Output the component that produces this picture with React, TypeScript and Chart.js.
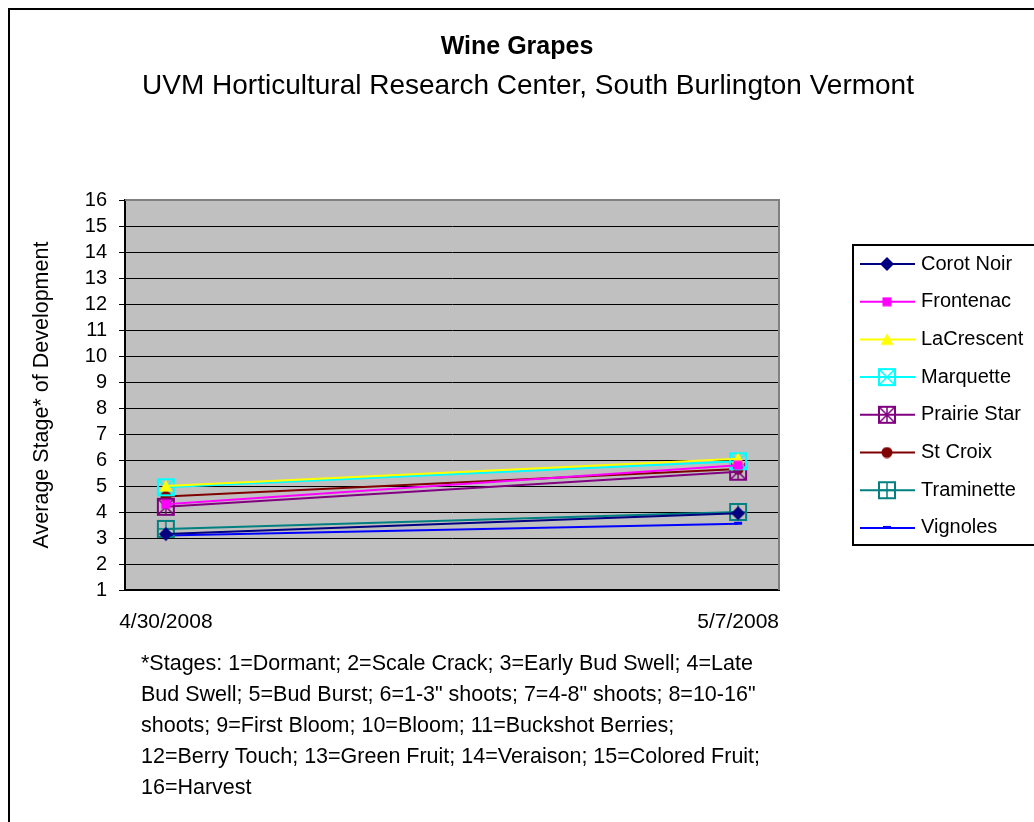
import React, { useEffect, useRef } from 'react';
import { Chart, registerables } from 'chart.js';

Chart.register(...registerables);

// ---- data ----
const dayOffsets = [0, 7];
const dateLabels = ['4/30/2008', '5/7/2008'];
const seriesNames = ['Corot Noir', 'Frontenac', 'LaCrescent', 'Marquette', 'Prairie Star', 'St Croix', 'Traminette', 'Vignoles'];
const corotNoir = [3.15, 3.95];
const frontenac = [4.3, 5.8];
const laCrescent = [5.0, 6.05];
const marquette = [4.95, 5.95];
const prairieStar = [4.2, 5.55];
const stCroix = [4.6, 5.65];
const traminette = [3.35, 4.0];
const vignoles = [3.1, 3.55];
const yMin = 1;
const yMax = 16;
const titleText = 'Wine Grapes';
const subtitleText = 'UVM Horticultural Research Center, South Burlington Vermont';
const yAxisTitle = 'Average Stage* of Development';
const footnoteLines = [
  '*Stages: 1=Dormant; 2=Scale Crack; 3=Early Bud Swell; 4=Late',
  'Bud Swell; 5=Bud Burst; 6=1-3" shoots; 7=4-8" shoots; 8=10-16"',
  'shoots; 9=First Bloom; 10=Bloom; 11=Buckshot Berries;',
  '12=Berry Touch; 13=Green Fruit; 14=Veraison; 15=Colored Fruit;',
  '16=Harvest',
];

const seriesValues = [corotNoir, frontenac, laCrescent, marquette, prairieStar, stCroix, traminette, vignoles];
const seriesColors = ['#000080', '#FF00FF', '#FFFF00', '#00FFFF', '#800080', '#800000', '#008080', '#0000FF'];
const seriesMarkers = ['diamond', 'square', 'triangle', 'boxX', 'boxStar', 'circle', 'boxPlus', 'dash'];

const FONT = "'Liberation Sans', Arial, sans-serif";

function makeMarker(kind: string, color: string): HTMLCanvasElement {
  const c = document.createElement('canvas');
  let s = 20;
  if (kind === 'diamond') s = 16;
  if (kind === 'square') s = 10;
  if (kind === 'triangle') s = 14;
  if (kind === 'circle') s = 12;
  if (kind === 'dash') s = 10;
  c.width = s;
  c.height = s;
  const g = c.getContext('2d')!;
  g.fillStyle = color;
  g.strokeStyle = color;
  if (kind === 'diamond') {
    g.beginPath();
    g.moveTo(8, 1); g.lineTo(15, 8); g.lineTo(8, 15); g.lineTo(1, 8); g.closePath();
    g.fill();
  } else if (kind === 'square') {
    g.fillRect(0.5, 0.5, 9, 9);
  } else if (kind === 'triangle') {
    g.beginPath();
    g.moveTo(7, 1); g.lineTo(13.5, 12.5); g.lineTo(0.5, 12.5); g.closePath();
    g.fill();
  } else if (kind === 'circle') {
    g.beginPath();
    g.arc(6, 6, 5.5, 0, Math.PI * 2);
    g.fill();
  } else if (kind === 'dash') {
    g.fillRect(1, 3, 8, 3);
  } else {
    g.lineWidth = 2;
    g.strokeRect(2, 2, 16, 16);
    g.lineWidth = 1.5;
    g.beginPath();
    if (kind === 'boxX' || kind === 'boxStar') {
      g.moveTo(3, 3); g.lineTo(17, 17);
      g.moveTo(17, 3); g.lineTo(3, 17);
    }
    if (kind === 'boxStar' || kind === 'boxPlus') {
      g.moveTo(10, 3); g.lineTo(10, 17);
    }
    if (kind === 'boxPlus') {
      g.moveTo(3, 10); g.lineTo(17, 10);
    }
    g.stroke();
  }
  return c;
}

export default function App() {
  const ref = useRef<HTMLCanvasElement | null>(null);

  useEffect(() => {
    const canvas = ref.current;
    if (!canvas) return;
    const markers = seriesMarkers.map((m, i) => makeMarker(m, seriesColors[i]));

    const decor = {
      id: 'decor',
      beforeDraw(chart: any) {
        const { ctx, chartArea: a } = chart;
        ctx.save();
        ctx.fillStyle = '#ffffff';
        ctx.fillRect(0, 0, chart.width, chart.height);
        ctx.fillStyle = '#C0C0C0';
        ctx.fillRect(a.left, a.top, a.right - a.left, a.bottom - a.top);
        ctx.restore();
      },
      beforeDatasetsDraw(chart: any) {
        const { ctx, chartArea: a } = chart;
        ctx.save();
        ctx.strokeStyle = '#808080';
        ctx.lineWidth = 2;
        ctx.beginPath();
        ctx.moveTo(a.left, a.top);
        ctx.lineTo(a.right, a.top);
        ctx.lineTo(a.right, a.bottom);
        ctx.stroke();
        ctx.restore();
      },
      afterDraw(chart: any) {
        const ctx = chart.ctx as CanvasRenderingContext2D;
        ctx.save();
        // outer border
        ctx.strokeStyle = '#000';
        ctx.lineWidth = 2;
        ctx.strokeRect(9, 9, 1100, 900);
        // titles
        ctx.fillStyle = '#000';
        ctx.textAlign = 'center';
        ctx.textBaseline = 'middle';
        ctx.font = `bold 25px ${FONT}`;
        ctx.fillText(titleText, 517, 47);
        ctx.font = `28px ${FONT}`;
        ctx.fillText(subtitleText, 528, 86);
        // y title
        ctx.save();
        ctx.translate(42, 395);
        ctx.rotate(-Math.PI / 2);
        ctx.font = `21.5px ${FONT}`;
        ctx.fillText(yAxisTitle, 0, 0);
        ctx.restore();
        // footnote
        ctx.textAlign = 'left';
        ctx.font = `21.5px ${FONT}`;
        footnoteLines.forEach((ln, i) => ctx.fillText(ln, 141, 664 + i * 31));
        // legend
        ctx.font = `20px ${FONT}`;
        ctx.lineWidth = 2;
        ctx.strokeStyle = '#000';
        ctx.strokeRect(853, 245, 200, 300);
        seriesNames.forEach((name, i) => {
          const y = 264 + i * 37.7;
          ctx.strokeStyle = seriesColors[i];
          ctx.lineWidth = 2;
          ctx.beginPath();
          ctx.moveTo(860, y);
          ctx.lineTo(915, y);
          ctx.stroke();
          const m = markers[i];
          ctx.drawImage(m, 887 - m.width / 2, y - m.height / 2);
          ctx.fillStyle = '#000';
          ctx.textAlign = 'left';
          ctx.fillText(name, 921, y);
        });
        ctx.restore();
      },
    };

    const chart = new Chart(canvas, {
      type: 'line',
      data: {
        datasets: seriesNames.map((name, i) => ({
          label: name,
          data: seriesValues[i].map((v, j) => ({ x: dayOffsets[j], y: v })),
          borderColor: seriesColors[i],
          backgroundColor: seriesColors[i],
          borderWidth: 2,
          pointStyle: markers[i] as any,
          pointRadius: 5,
          tension: 0,
          fill: false,
        })),
      },
      options: {
        animation: false,
        responsive: false,
        events: [],
        layout: { padding: { left: 60, top: 200, right: 255, bottom: 192 } },
        plugins: {
          legend: { display: false },
          title: { display: false },
          tooltip: { enabled: false },
        },
        scales: {
          x: {
            type: 'linear',
            min: -0.5,
            max: 7.5,
            afterBuildTicks: (scale: any) => {
              scale.ticks = dayOffsets.map((v) => ({ value: v }));
            },
            afterFit: (scale: any) => {
              scale.height = 40;
            },
            grid: { color: 'rgba(0,0,0,0)', drawTicks: false },
            border: { display: true, color: '#000', width: 2 },
            ticks: {
              padding: 20,
              color: '#000',
              font: { family: FONT, size: 21 },
              maxRotation: 0,
              autoSkip: false,
              callback: (v: any) => {
                const idx = dayOffsets.indexOf(Number(v));
                return idx >= 0 ? dateLabels[idx] : '';
              },
            },
          },
          y: {
            type: 'linear',
            min: yMin,
            max: yMax,
            afterFit: (scale: any) => {
              scale.width = 65;
            },
            grid: { color: '#000', lineWidth: 1, drawTicks: true, tickLength: 6 },
            border: { display: true, color: '#000', width: 2 },
            ticks: {
              stepSize: 1,
              autoSkip: false,
              padding: 12,
              color: '#000',
              font: { family: FONT, size: 20 },
            },
          },
        },
      },
      plugins: [decor],
    } as any);

    return () => chart.destroy();
  }, []);

  return (
    <div style={{ position: 'absolute', left: 0, top: 0, width: 1034, height: 822 }}>
      <canvas ref={ref} width={1034} height={822} style={{ display: 'block', width: 1034, height: 822 }} />
    </div>
  );
}
